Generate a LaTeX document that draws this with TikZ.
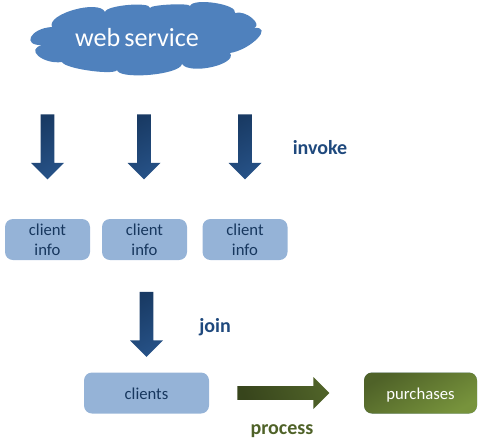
\documentclass[tikz,border=0pt]{standalone}
\usepackage{fontspec}
\setmainfont{Carlito}[WordSpace=0.7]
\usepackage{tikz}
\usetikzlibrary{shapes.arrows}

\definecolor{cloudblue}{HTML}{4F81BD}
\definecolor{boxblue}{HTML}{95B3D7}
\definecolor{inkblue}{HTML}{17375E}
\definecolor{labelblue}{HTML}{1F497D}
\definecolor{labelgreen}{HTML}{4F6228}
\definecolor{leafgreen}{HTML}{77933C}

\begin{document}
\begin{tikzpicture}[
  x=0.75pt, y=-0.75pt,
  font=\fontsize{12.5}{15}\selectfont,
  infobox/.style={fill=boxblue, text=inkblue, rounded corners=6pt, align=center,
    inner sep=0pt, minimum width=63.75pt, minimum height=30.75pt},
  oneline/.style={text height=9pt, text depth=0pt},
  downarrow/.style={single arrow, shape border rotate=270, inner sep=4.2pt,
    minimum width=24.75pt, minimum height=48.75pt, single arrow head extend=6.2pt,
    single arrow tip angle=90, top color=labelblue!80!black, bottom color=labelblue!85!cloudblue,
    shading angle=30},
  steplabel/.style={font=\fontsize{15}{18}\selectfont\bfseries, inner sep=0pt}]
\useasboundingbox (0,0) rectangle (484,443);
\fill[cloudblue] (52,27) .. controls (46,14) and (99,-1) .. (105,12)
  .. controls (105.7,5.3) and (150.7,1.3) .. (150,8)
  .. controls (150,4.7) and (190,2.7) .. (190,6)
  .. controls (193.3,-2.7) and (238.3,4.3) .. (235,13)
  .. controls (246,9.7) and (263,24.7) .. (254,28)
  .. controls (274,26) and (251,49.7) .. (230,53)
  .. controls (238,64.3) and (190,75.3) .. (182,64)
  .. controls (180,75.3) and (115,80.3) .. (117,69)
  .. controls (120.3,76.3) and (65,69.3) .. (62,62)
  .. controls (43,64.7) and (24,48.7) .. (43,45)
  .. controls (21,46.3) and (30,28.3) .. (52,27) -- cycle;
\node[text=white, font=\fontsize{19.6}{22}\selectfont, inner sep=0pt] (service) at (137,38) {web service};
\node[downarrow] (call1) at (47.5,143.5) {};
\node[downarrow] (call2) at (144,143.5) {};
\node[downarrow] (call3) at (245,143.5) {};
\node[steplabel, text=labelblue] (invoke) at (320,148) {invoke};
\node[infobox] (info1) at (47.5,239.5) {client\\info};
\node[infobox] (info2) at (144.5,239.5) {client\\info};
\node[infobox] (info3) at (245,239.5) {client\\info};
\node[downarrow] (merge) at (146.5,321) {};
\node[steplabel, text=labelblue] (join) at (215,327) {join};
\node[infobox, oneline, minimum width=93.75pt] (clients) at (146.5,393) {clients};
\node[single arrow, inner sep=4.2pt, minimum width=24pt, minimum height=69pt,
  single arrow head extend=6pt, single arrow tip angle=90,
  top color=labelgreen!70!black, bottom color=labelgreen, shading angle=110] (work) at (280,393) {};
\node[steplabel, text=labelgreen] (process) at (282,431) {process};
\node[infobox, oneline, minimum width=84.75pt, text=white, top color=labelgreen,
  bottom color=leafgreen, shading angle=30] (purchases) at (420.5,393) {purchases};
\end{tikzpicture}
\end{document}
